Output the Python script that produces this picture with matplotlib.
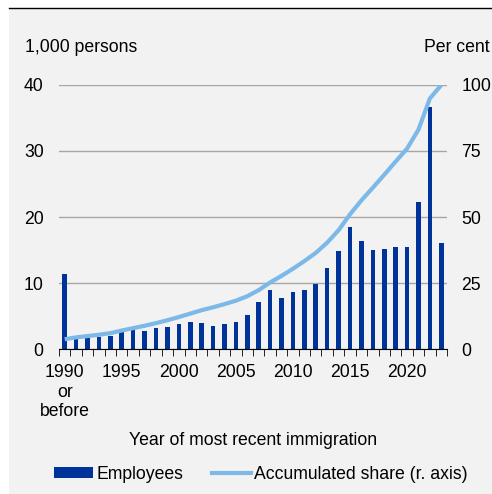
import numpy as np
import matplotlib.pyplot as plt
from matplotlib.patches import Rectangle, Patch
from matplotlib.lines import Line2D

plt.rcParams['font.family'] = ['Liberation Sans', 'DejaVu Sans']
fs = 12.7

years = list(range(1990, 2024))
employees = [11.4, 1.5, 1.7, 1.8, 1.9, 3.0, 2.9, 2.7, 3.2, 3.35,
             3.8, 4.1, 4.0, 3.5, 3.8, 4.1, 5.1, 7.1, 9.0, 7.7,
             8.6, 8.9, 9.8, 12.2, 14.9, 18.5, 16.4, 15.0, 15.2, 15.5,
             15.5, 22.2, 36.6, 16.0]
acc_share = [3.7, 4.4, 4.9, 5.4, 6.0, 7.0, 7.9, 8.8, 9.8, 10.9,
             12.1, 13.4, 14.7, 15.8, 17.0, 18.3, 20.0, 22.3, 25.2, 27.7,
             30.4, 33.3, 36.4, 40.3, 45.0, 51.0, 56.3, 61.1, 66.0, 71.0,
             75.9, 83.1, 94.9, 100.0]
tick_years = [1990, 1995, 2000, 2005, 2010, 2015, 2020]
tick_labels = ['1990\nor\nbefore', '1995', '2000', '2005', '2010', '2015', '2020']

bar_color = '#003399'
line_color = '#7cb9e8'
bg = '#f2f2f2'

fig = plt.figure(figsize=(4.92, 4.94), dpi=100)
fig.patch.set_facecolor('white')
fig.patches.append(Rectangle((9 / 492, 0), 1, (494 - 9) / 494, transform=fig.transFigure,
                             facecolor=bg, edgecolor='none', zorder=-10))
fig.add_artist(Line2D([9 / 492, 1], [(494 - 8.5) / 494] * 2, transform=fig.transFigure,
                      color='black', lw=1))

ax = fig.add_axes([59 / 492, (494 - 349) / 494, 388 / 492, 264 / 494])
ax.set_facecolor('none')
x = np.arange(len(years))
ax.bar(x, employees, width=0.4, color=bar_color, zorder=3)
ax.set_xlim(-0.5, len(years) - 0.5)
ax.set_ylim(0, 40)
ax.set_yticks([0, 10, 20, 30, 40])
ax.yaxis.grid(True, color='#a6a6a6', lw=1)
ax.set_axisbelow(True)
for s in ['top', 'right', 'left']:
    ax.spines[s].set_visible(False)
ax.spines['bottom'].set_color('black')
ax.spines['bottom'].set_zorder(5)
ax.tick_params(axis='y', length=0, labelsize=fs, pad=11)
ax.set_xticks(np.arange(len(years) + 1) - 0.5, minor=True)
ax.tick_params(axis='x', which='minor', length=5, color='black', direction='out')
ax.set_xticks([years.index(y) for y in tick_years])
ax.set_xticklabels(tick_labels, fontsize=fs, linespacing=1.2)
ax.tick_params(axis='x', which='major', length=0, pad=11)
ax.set_xlabel('Year of most recent immigration', fontsize=fs, labelpad=8)

ax2 = ax.twinx()
ax2.plot(x, acc_share, color=line_color, lw=3, zorder=4, solid_capstyle='butt')
ax2.set_ylim(0, 100)
ax2.set_yticks([0, 25, 50, 75, 100])
for s in ['top', 'right', 'left', 'bottom']:
    ax2.spines[s].set_visible(False)
ax2.tick_params(axis='y', length=0, labelsize=fs, pad=10.5)

fig.text(25 / 492, 1 - 47 / 494, '1,000 persons', fontsize=fs, va='center', ha='left')
fig.text(490 / 492, 1 - 47 / 494, 'Per cent', fontsize=fs, va='center', ha='right')

handles = [Patch(facecolor=bar_color, label='Employees'),
           Line2D([], [], color=line_color, lw=3, label='Accumulated share (r. axis)')]
fig.legend(handles=handles, loc='center', bbox_to_anchor=(261 / 492, 1 - 474 / 494),
           ncol=2, frameon=False, fontsize=fs, handlelength=2.2, handleheight=0.6,
           handletextpad=0.2, columnspacing=1.6)

fig.savefig('out.png', dpi=100, facecolor=fig.get_facecolor())
